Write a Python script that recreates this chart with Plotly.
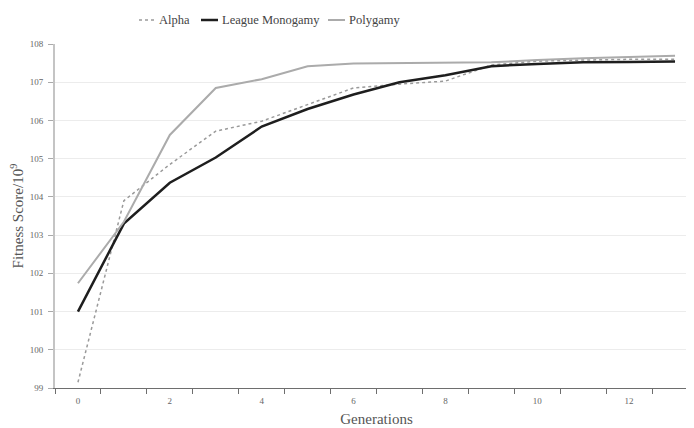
import plotly.graph_objects as go

generations = list(range(14))
alpha = [99.15, 103.9, 104.85, 105.72, 105.98, 106.42, 106.85, 106.95, 107.03, 107.45, 107.55, 107.58, 107.6, 107.6]
league_monogamy = [101.0, 103.3, 104.37, 105.03, 105.84, 106.3, 106.68, 107.0, 107.18, 107.42, 107.48, 107.52, 107.53, 107.54]
polygamy = [101.74, 103.35, 105.62, 106.85, 107.08, 107.42, 107.49, 107.5, 107.5, 107.52, 107.58, 107.63, 107.66, 107.69]

series_names = ["Alpha", "League Monogamy", "Polygamy"]
y_ticks = list(range(99, 109))
x_labels = [0, 2, 4, 6, 8, 10, 12]

font = "Liberation Serif, Times New Roman, serif"

W, H = 694, 428
L, R, T, B = 47, 4, 36, 48
PW, PH = W - L - R, H - T - B

styles = [dict(color="#9a9a9a", width=1.5, dash="dot"),
          dict(color="#1e1e1e", width=2.5),
          dict(color="#ababab", width=2)]

fig = go.Figure()
for name, vals, st in zip(series_names, [alpha, league_monogamy, polygamy], styles):
    fig.add_trace(go.Scatter(x=generations, y=vals, mode="lines", name=name,
                             line=st, showlegend=False))

# custom legend (short sample lines like the reference)
def px(xp):
    return (xp - 8 - L) / PW

def py(yp):
    return 1 + (T - (yp - 8)) / PH

legend_items = [(139, 154, 157), (201, 218, 220), (328, 345, 347)]
for (x0, x1, tx), name, st in zip(legend_items, series_names, styles):
    fig.add_shape(type="line", xref="paper", yref="paper",
                  x0=px(x0), x1=px(x1), y0=py(20), y1=py(20), line=st)
    fig.add_annotation(xref="paper", yref="paper", x=px(tx), y=py(20.5),
                       xanchor="left", yanchor="middle", text=name, showarrow=False,
                       font=dict(size=12.5, color="#444444", family=font))

fig.update_layout(
    width=W, height=H,
    margin=dict(l=L, r=R, t=T, b=B, autoexpand=False),
    paper_bgcolor="white", plot_bgcolor="white",
    font=dict(family=font, color="#555555"),
    showlegend=False,
    xaxis=dict(range=[-0.5, 13.5], tickmode="array", tickvals=x_labels,
               ticktext=[str(v) for v in x_labels], ticks="",
               tickfont=dict(size=9, color="#666666", family=font),
               ticklabelstandoff=4,
               showgrid=False, zeroline=False, automargin=False,
               showline=True, linecolor="#6e6e6e", linewidth=1,
               minor=dict(ticks="outside", tick0=0.5, dtick=1, ticklen=5,
                          tickcolor="#6e6e6e", showgrid=False),
               title=dict(text="Generations", font=dict(size=15, color="#555555"), standoff=8)),
    yaxis=dict(range=[99, 108], tickmode="array", tickvals=y_ticks,
               ticktext=[str(v) for v in y_ticks], ticks="outside", ticklen=5,
               tickcolor="#aaaaaa", tickfont=dict(size=9, color="#666666", family=font),
               ticklabelstandoff=3,
               showgrid=True, gridcolor="#ececec", gridwidth=1, zeroline=False,
               automargin=False,
               showline=True, linecolor="#c4c4c4", linewidth=2,
               title=dict(text="Fitness Score/10<sup>9</sup>", font=dict(size=15, color="#555555"), standoff=8)),
)

fig.write_html("out.html")
